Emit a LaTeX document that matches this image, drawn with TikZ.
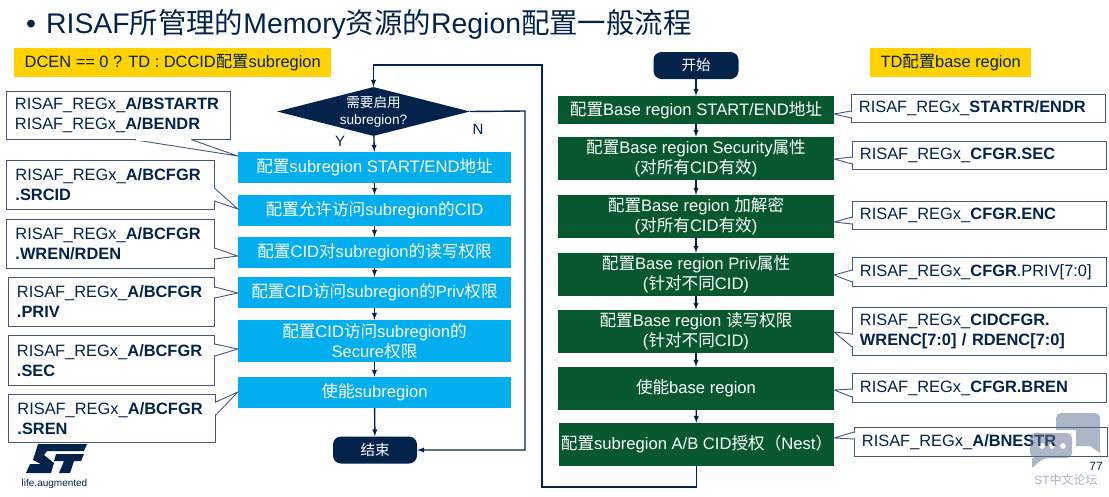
\documentclass[tikz,border=0pt]{standalone}
\usepackage{fontspec}
\setmainfont{Liberation Sans}
\newfontfamily\zh{Noto Sans CJK SC}
\usetikzlibrary{shapes.geometric,arrows}
\definecolor{navy}{HTML}{03234B}
\definecolor{skyb}{HTML}{03AEEF}
\definecolor{darkg}{HTML}{07582F}
\definecolor{stamp}{HTML}{FFD200}
\definecolor{edgec}{HTML}{46587A}
\definecolor{markc}{HTML}{5A6E90}
\definecolor{forumc}{HTML}{A9B5C6}
\begin{document}
\begin{tikzpicture}
	[   x=1pt,y=-1pt,
		flow/.style={fill=#1,text=white,minimum width=273pt,inner sep=0pt,align=center,font=\fontsize{16.6}{20}\selectfont},
		tag/.style={fill=stamp,text=navy,anchor=north west,minimum height=29pt,inner sep=0pt,font=\fontsize{16.4}{20}\selectfont},
		reg/.style={draw=edgec,fill=white,text=navy,anchor=north west,text width=#1,inner xsep=9pt,inner ysep=0pt,align=left,line width=0.9pt,font=\fontsize{16.4}{20}\selectfont},
		rreg/.style={reg=#1,inner xsep=7.5pt},
		term/.style={fill=navy,text=white,rounded corners=8pt,minimum height=27pt,font=\fontsize{14.5}{16}\selectfont},
	]
	\tikzset{normal arrow/.style={draw=navy,line width=1.4pt,-latex}}
	\useasboundingbox (0,0) rectangle (1109,496);

	\node[text=navy,anchor=west,inner sep=0pt,font=\fontsize{28.4}{30}\selectfont] (title) at (26,24) {\textbullet\hspace{10pt}RISAF{\zh 所管理的}Memory{\zh 资源的}Region{\zh 配置一般流程}};

	\node[tag,minimum width=317pt] (tag-1) at (14,48) {DCEN == 0 ? TD : DCCID{\zh 配置}subregion};
	\node[tag,minimum width=161pt] (tag-2) at (870,48) {TD{\zh 配置}base region};

	% left flow
	\node[shape=diamond,fill=navy,aspect=3.94,minimum width=193pt,minimum height=49pt,inner sep=0pt,
		label={[text=white,align=center,font=\fontsize{13.6}{17}\selectfont]center:{\zh 需要启用}\\subregion?}] (d) at (373.5,111.5) {};
	\node[flow=skyb,minimum height=31pt] (b-1) at (374.5,167.5) {{\zh 配置}subregion START/END{\zh 地址}};
	\node[flow=skyb,minimum height=31pt] (b-2) at (374.5,210.5) {{\zh 配置允许访问}subregion{\zh 的}CID};
	\node[flow=skyb,minimum height=31pt] (b-3) at (374.5,252.5) {{\zh 配置}CID{\zh 对}subregion{\zh 的读写权限}};
	\node[flow=skyb,minimum height=31pt] (b-4) at (374.5,292.5) {{\zh 配置}CID{\zh 访问}subregion{\zh 的}Priv{\zh 权限}};
	\node[flow=skyb,minimum height=42pt] (b-5) at (374.5,341) {{\zh 配置}CID{\zh 访问}subregion{\zh 的}\\Secure{\zh 权限}};
	\node[flow=skyb,minimum height=31pt] (b-6) at (374.5,392.5) {{\zh 使能}subregion};
	\node[term,minimum width=84pt] (end) at (375,450) {\zh 结束};

	\node[text=navy,font=\fontsize{15}{18}\selectfont] (y) at (340,141) {Y};
	\node[text=navy,font=\fontsize{15}{18}\selectfont] (n) at (478,129) {N};

	% right flow
	\node[term,minimum width=85pt] (start) at (696,65.5) {\zh 开始};
	\node[flow=darkg,minimum width=276pt,minimum height=28pt] (g-1) at (696,110) {{\zh 配置}Base region START/END{\zh 地址}};
	\node[flow=darkg,minimum width=276pt,minimum height=43pt] (g-2) at (696,158.5) {{\zh 配置}Base region Security{\zh 属性}\\({\zh 对所有}CID{\zh 有效})};
	\node[flow=darkg,minimum width=276pt,minimum height=43pt] (g-3) at (696,216.5) {{\zh 配置}Base region {\zh 加解密}\\({\zh 对所有}CID{\zh 有效})};
	\node[flow=darkg,minimum width=276pt,minimum height=43pt] (g-4) at (696,274.5) {{\zh 配置}Base region Priv{\zh 属性}\\({\zh 针对不同}CID)};
	\node[flow=darkg,minimum width=276pt,minimum height=43pt] (g-5) at (696,331.5) {{\zh 配置}Base region {\zh 读写权限}\\({\zh 针对不同}CID)};
	\node[flow=darkg,minimum width=276pt,minimum height=43pt] (g-6) at (696,388.5) {{\zh 使能}base region};
	\node[flow=darkg,minimum width=275pt,minimum height=43pt] (g-7) at (696.5,444.5) {{\zh 配置}subregion A/B CID{\zh 授权（}Nest{\zh ）}};

	% register boxes, left
	\node[reg=206.5pt,minimum height=48pt] (c-1) at (5.5,91) {RISAF\_REGx\_\textbf{A/BSTARTR}\\RISAF\_REGx\_\textbf{A/BENDR}};
	\node[reg=189.5pt,minimum height=49pt] (c-2) at (6,160) {RISAF\_REGx\_\textbf{A/BCFGR}\\\textbf{.SRCID}};
	\node[reg=189.5pt,minimum height=49pt] (c-3) at (6,219) {RISAF\_REGx\_\textbf{A/BCFGR}\\\textbf{.WREN/RDEN}};
	\node[reg=188.5pt,minimum height=49pt] (c-4) at (7.5,277) {RISAF\_REGx\_\textbf{A/BCFGR}\\\textbf{.PRIV}};
	\node[reg=188.5pt,minimum height=50pt] (c-5) at (7.5,335) {RISAF\_REGx\_\textbf{A/BCFGR}\\\textbf{.SEC}};
	\node[reg=189pt,minimum height=48pt] (c-6) at (8,394) {RISAF\_REGx\_\textbf{A/BCFGR}\\\textbf{.SREN}};

	% register boxes, right
	\node[rreg=239pt,minimum height=28pt] (r-1) at (851,94) {RISAF\_REGx\_\textbf{STARTR/ENDR}};
	\node[rreg=239pt,minimum height=28pt] (r-2) at (852,141) {RISAF\_REGx\_\textbf{CFGR.SEC}};
	\node[rreg=239pt,minimum height=28pt] (r-3) at (852,201) {RISAF\_REGx\_\textbf{CFGR.ENC}};
	\node[rreg=239pt,minimum height=29pt] (r-4) at (852,257) {RISAF\_REGx\_\textbf{CFGR}.PRIV[7:0]};
	\node[rreg=239pt,minimum height=48pt] (r-5) at (852,307) {RISAF\_REGx\_\textbf{CIDCFGR.}\\\textbf{WRENC[7:0] / RDENC[7:0]}};
	\node[rreg=239pt,minimum height=29pt] (r-6) at (852,373) {RISAF\_REGx\_\textbf{CFGR.BREN}};
	\node[rreg=238pt,minimum height=29pt] (r-7) at (854,427) {RISAF\_REGx\_\textbf{A/BNESTR}};

	% pointers of the register boxes
	\draw[draw=edgec,fill=white,line width=0.9pt] (c-1.south -| 135,0) -- (b-1.west |- 0,156) -- (c-1.south -| 192,0);
	\draw[white,line width=1.6pt] (c-1.south -| 136,0) -- (c-1.south -| 191,0);
	\foreach \i/\t/\p/\q/\s in {2/b-2/188/201/209,3/b-3/248/259/256,4/b-4/287/298/293,5/b-5/344/356/349,6/b-6/402/415/392}
	{
		\draw[draw=edgec,fill=white,line width=0.9pt] (c-\i.east |- 0,\p) -- (\t.west |- 0,\s) -- (c-\i.east |- 0,\q);
		\draw[white,line width=1.6pt] (c-\i.east |- 0,\p+1) -- (c-\i.east |- 0,\q-1);
	}
	\foreach \i/\p/\q/\s in {1/111/118/114,2/157/164/159,3/217/224/222,4/270/282/275,5/334/347/332,6/389/397/390,7/432/439/438}
	{
		\draw[draw=edgec,fill=white,line width=0.9pt] (r-\i.west |- 0,\p) -- (g-\i.east |- 0,\s) -- (r-\i.west |- 0,\q);
		\draw[white,line width=1.6pt] (r-\i.west |- 0,\p+1) -- (r-\i.west |- 0,\q-1);
	}

	\foreach \x/\y in {1/2,2/3,3/4,4/5,5/6}
	{
		\path[normal arrow] (b-\x) -- (b-\y);
	}
	\foreach \x/\y in {1/2,2/3,3/4,4/5,5/6,6/7}
	{
		\path[normal arrow] (g-\x) -- (g-\y);
	}
	\path[normal arrow] (start) -- (g-1);
	\path[normal arrow] (d) -- (b-1);
	\path[normal arrow] (b-6) -- (end);
	\path[normal arrow] (d.east) -- (525,111) -- (525,450) -- (end.east);
	\path[normal arrow] (g-7.south) -- (696.5,487) -- (542,487) -- (542,65) -- (373.5,65) -- (d.north);

	% logo
	\fill[navy] (38,444) -- (87,444) -- (84,451) -- (47,451) -- (44,455) -- (54,463) -- (51,473) -- (26,473) -- (30,464) -- (41,464) -- (33,460) -- cycle;
	\fill[navy] (56,454) -- (84,454) -- (81,461) -- (74,461) -- (70,473) -- (59,473) -- (64,461) -- (54,461) -- cycle;
	\node[text=navy,inner sep=0pt,font=\fontsize{10}{12}\selectfont] (life) at (54.5,484) {life.augmented};

	% watermark
	\fill[markc,opacity=0.5,rounded corners=5pt] (1056,430) -- (1056,413) -- (1100,413) -- (1100,450) [sharp corners] -- (1100,453) -- (1090,446) -- (1076,446) -- (1076,430) -- cycle;
	\fill[markc,opacity=0.5,even odd rule,rounded corners=5pt] (1030,433) -- (1072,433) -- (1072,458) -- (1044,458) [sharp corners] -- (1032,468) -- (1032,458) [rounded corners=5pt] -- (1030,458) -- cycle
		[sharp corners] (1042,446) circle (3pt) (1052,446) circle (3pt) (1063,446) circle (3pt);
	\node[text=navy,inner sep=0pt,font=\fontsize{12}{14}\selectfont] (page) at (1096,466) {77};
	\node[text=forumc,inner sep=0pt,font=\fontsize{12}{14}\selectfont] (forum) at (1066,480) {ST{\zh 中文论坛}};
\end{tikzpicture}
\end{document}
